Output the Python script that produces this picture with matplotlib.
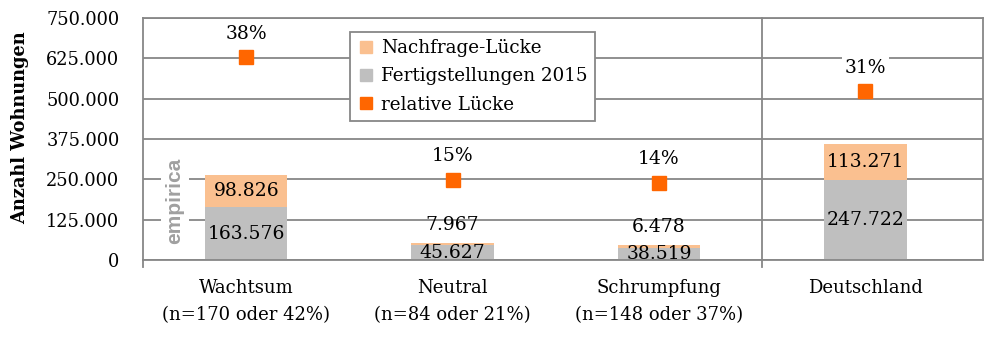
import matplotlib
matplotlib.use("Agg")
import matplotlib.pyplot as plt
from matplotlib.lines import Line2D
from matplotlib.ticker import FuncFormatter, MultipleLocator

categories = ["Wachtsum\n(n=170 oder 42%)", "Neutral\n(n=84 oder 21%)",
              "Schrumpfung\n(n=148 oder 37%)", "Deutschland"]
fertig = [163576, 45627, 38519, 247722]
luecke = [98826, 7967, 6478, 113271]
relativ = [0.377, 0.149, 0.144, 0.314]

GREY = "#BFBFBF"
LORANGE = "#FAC090"
ORANGE = "#FF6600"
GRID = "#878787"
SERIF = ["DejaVu Serif"]

plt.rcParams["font.family"] = SERIF

fig = plt.figure(figsize=(9.85, 3.39), dpi=100)
ax = fig.add_axes([143/985, 1-260/339, 840/985, 242/339])
x = list(range(len(categories)))

ax.bar(x, fertig, width=0.4, color=GREY, zorder=2)
ax.bar(x, luecke, width=0.4, bottom=fertig, color=LORANGE, zorder=2)

ax.set_ylim(0, 750000)
ax.set_xlim(-0.5, 3.57)
ax.yaxis.set_major_locator(MultipleLocator(125000))
ax.yaxis.set_major_formatter(FuncFormatter(lambda v, p: "0" if v == 0 else f"{int(v):,}".replace(",", ".")))
ax.grid(axis="y", color=GRID, linewidth=1.3, zorder=0)
ax.set_axisbelow(True)
ax.tick_params(axis="y", length=0, labelsize=12.8, pad=17)
ax.tick_params(axis="x", length=0, labelsize=13, pad=14)
ax.set_xticks(x)
ax.set_xticklabels(categories, linespacing=1.6)
for s in ["top", "right", "left", "bottom"]:
    ax.spines[s].set_color(GRID)
    ax.spines[s].set_linewidth(1.3)
fig.text(20/985, 1-128/339, "Anzahl Wohnungen", rotation=90, ha="center", va="center",
         fontsize=12.8, fontweight="bold")

# extended left spine & separator
ax.add_line(Line2D([-0.5, -0.5], [0, -0.03], transform=ax.get_xaxis_transform(),
                   color=GRID, lw=1.3, clip_on=False))
ax.add_line(Line2D([2.5, 2.5], [1, -0.03], transform=ax.get_xaxis_transform(),
                   color=GRID, lw=1.3, clip_on=False, zorder=3))

# data labels
for i in x:
    f, l = fertig[i], luecke[i]
    fs = f"{f:,}".replace(",", ".")
    ls = f"{l:,}".replace(",", ".")
    if l > 30000:
        ax.text(i, f + l / 2, ls, ha="center", va="center", fontsize=13.5, zorder=4)
        ax.text(i, f / 2, fs, ha="center", va="center", fontsize=13.5, zorder=4)
    else:
        ax.annotate(ls, (i, f + l), xytext=(0, 13), textcoords="offset points",
                    ha="center", va="center", fontsize=13.5, zorder=4)
        ax.text(i, f / 2, fs, ha="center", va="center", fontsize=13.5, zorder=4)

# secondary axis for relative gap
ax2 = ax.twinx()
ax2.set_ylim(0, 0.45)
ax2.set_xlim(ax.get_xlim())
ax2.axis("off")
ax2.plot(x, relativ, linestyle="none", marker="s", markersize=9.5, color=ORANGE, zorder=5)
for i, r in zip(x, relativ):
    ax2.annotate(f"{r*100:.0f}%", (i, r), xytext=(0, 17), textcoords="offset points",
                 ha="center", va="center", fontsize=13.5,
                 bbox=dict(facecolor="white", edgecolor="none", pad=2))

# watermark
ax.text(0.038, 0.244, "empirica", transform=ax.transAxes, rotation=90,
        ha="center", va="center", fontsize=15, fontweight="bold", color="#A0A0A0",
        family=["Liberation Sans"], zorder=3,
        bbox=dict(facecolor="white", edgecolor="none", pad=3))

handles = [
    Line2D([], [], linestyle="none", marker="s", markersize=8, color=LORANGE),
    Line2D([], [], linestyle="none", marker="s", markersize=8, color=GREY),
    Line2D([], [], linestyle="none", marker="s", markersize=9, color=ORANGE),
]
leg = ax2.legend(handles, ["Nachfrage-Lücke", "Fertigstellungen 2015", "relative Lücke"],
                 loc="upper left", bbox_to_anchor=(0.246, 0.942), borderaxespad=0,
                 fontsize=13.2, frameon=True, fancybox=False, edgecolor=GRID,
                 handletextpad=0.3, handlelength=1.0, labelspacing=0.55, borderpad=0.4)
leg.get_frame().set_linewidth(1.3)
leg.get_frame().set_alpha(1)
leg.set_zorder(10)

fig.savefig("out.png", dpi=100)
